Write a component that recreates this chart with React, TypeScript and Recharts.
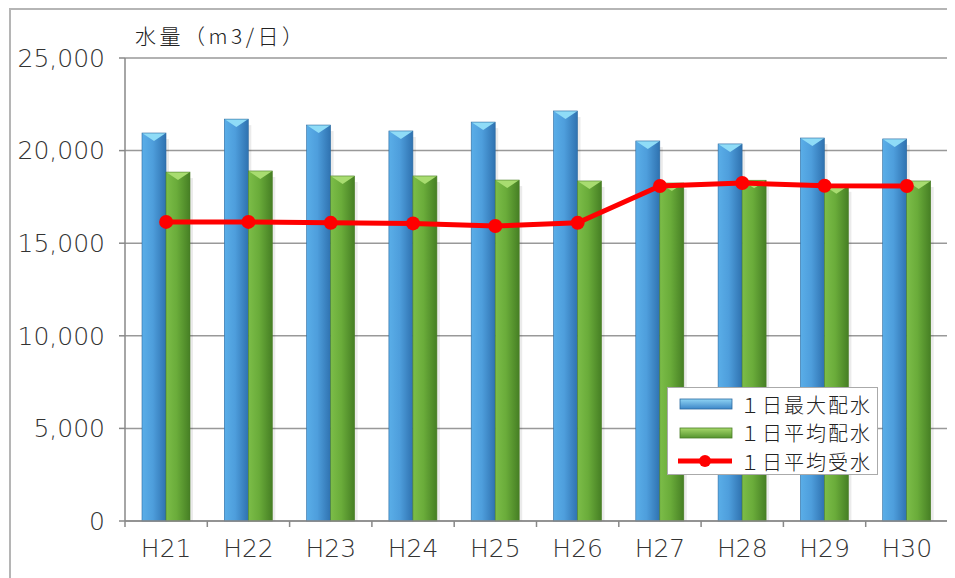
import React from "react";
import {
  ComposedChart,
  Bar,
  Line,
  XAxis,
  YAxis,
  CartesianGrid,
} from "recharts";

const years = ["H21", "H22", "H23", "H24", "H25", "H26", "H27", "H28", "H29", "H30"];
const maxSupply = [20950, 21700, 21380, 21060, 21540, 22140, 20520, 20360, 20680, 20630];
const avgSupply = [18840, 18900, 18630, 18630, 18410, 18360, 18250, 18400, 18100, 18360];
const avgIntake = [16150, 16150, 16100, 16070, 15930, 16100, 18090, 18250, 18100, 18090];
const yTicks = [0, 5000, 10000, 15000, 20000, 25000];

const seriesNames = ["１日最大配水", "１日平均配水", "１日平均受水"];

const data = years.map((y, i) => ({
  year: y,
  max: maxSupply[i],
  avg: avgSupply[i],
  intake: avgIntake[i],
}));

const W = 947;
const H = 570;
const M = { top: 50, right: 7, bottom: 27, left: 0 };
const Y_AXIS_W = 117;
const BAND = (W - M.left - M.right - Y_AXIS_W) / years.length;

const FONT = "'DejaVu Sans', 'Noto Sans CJK JP', sans-serif";
const JP_FONT = "'Noto Sans CJK JP', 'DejaVu Sans', sans-serif";

// cylinder-ish bar with a bevelled cap
const makeBar = (grad: string, cap: string, edge: string) => (props: any) => {
  const { x, y, width, height } = props;
  if (height <= 0) return null;
  return (
    <g>
      <rect x={x + 3} y={y + 6} width={width} height={height - 6} fill="#000" opacity={0.08} />
      <rect x={x} y={y} width={width} height={height} fill={`url(#${grad})`} />
      <polygon
        points={`${x},${y} ${x + width},${y} ${x + width / 2},${y + 8}`}
        fill={cap}
      />
      <rect x={x} y={y} width={width} height={height} fill="none" stroke={edge} strokeWidth={0.6} />
    </g>
  );
};

const BlueBar = makeBar("gBlue", "#8fdcf7", "#2c6aa0");
const GreenBar = makeBar("gGreen", "#a8dc70", "#4a7d26");

const XTick = (props: any) => {
  const { x, y, payload, index } = props;
  const left = x - BAND / 2;
  return (
    <g>
      <line x1={left} y1={y} x2={left} y2={y + 6} stroke="#888" strokeWidth={1.5} />
      {index === years.length - 1 && (
        <line x1={left + BAND} y1={y} x2={left + BAND} y2={y + 6} stroke="#888" strokeWidth={1.5} />
      )}
      <text
        x={x}
        y={y + 36}
        textAnchor="middle"
        fill="#333"
        fontSize={25}
        fontWeight={200}
        fontFamily={FONT}
      >
        {payload.value}
      </text>
    </g>
  );
};

const LegendBox = () => {
  const rows = [
    { name: seriesNames[0], kind: "blue" },
    { name: seriesNames[1], kind: "green" },
    { name: seriesNames[2], kind: "line" },
  ];
  return (
    <div
      style={{
        position: "absolute",
        left: 659,
        top: 379,
        width: 211,
        height: 88,
        background: "#fff",
        border: "1px solid #aaa",
        boxSizing: "border-box",
        paddingTop: 2,
      }}
    >
      {rows.map((r) => (
        <div key={r.name} style={{ display: "flex", alignItems: "center", height: 28.5 }}>
          <svg width={72} height={20}>
            {r.kind === "line" ? (
              <g>
                <line x1={10} y1={10} x2={64} y2={10} stroke="#ff0000" strokeWidth={5} />
                <circle cx={37} cy={10} r={6} fill="#ff0000" />
              </g>
            ) : (
              <rect
                x={12}
                y={5}
                width={52}
                height={10}
                fill={r.kind === "blue" ? "url(#gBlueH)" : "url(#gGreenH)"}
                stroke={r.kind === "blue" ? "#2c6aa0" : "#4a7d26"}
                strokeWidth={0.8}
              />
            )}
          </svg>
          <span
            style={{
              fontFamily: JP_FONT,
              fontSize: 20,
              fontWeight: 300,
              color: "#222",
              letterSpacing: 2,
            }}
          >
            {r.name}
          </span>
        </div>
      ))}
    </div>
  );
};

export default function App() {
  return (
    <div style={{ position: "relative", width: W, height: H }}>
      <svg width={0} height={0} style={{ position: "absolute" }}>
        <defs>
          <linearGradient id="gBlueH" x1="0" y1="0" x2="0" y2="1">
            <stop offset="0%" stopColor="#8fd4f4" />
            <stop offset="100%" stopColor="#3c86c8" />
          </linearGradient>
          <linearGradient id="gGreenH" x1="0" y1="0" x2="0" y2="1">
            <stop offset="0%" stopColor="#a6d86a" />
            <stop offset="100%" stopColor="#55942e" />
          </linearGradient>
        </defs>
      </svg>
      <ComposedChart width={W} height={H} data={data} margin={M} barGap={0} barCategoryGap="21%">
        <defs>
          <linearGradient id="gBlue" x1="0" y1="0" x2="1" y2="0">
            <stop offset="0%" stopColor="#5aaee8" />
            <stop offset="45%" stopColor="#4e9edc" />
            <stop offset="100%" stopColor="#2f72b0" />
          </linearGradient>
          <linearGradient id="gGreen" x1="0" y1="0" x2="1" y2="0">
            <stop offset="0%" stopColor="#7cbd48" />
            <stop offset="45%" stopColor="#6aac3a" />
            <stop offset="100%" stopColor="#467f24" />
          </linearGradient>
        </defs>
        <CartesianGrid vertical={false} stroke="#999" strokeWidth={1.5} />
        <XAxis
          dataKey="year"
          tickLine={false}
          tickSize={0}
          tickMargin={0}
          height={30}
          axisLine={{ stroke: "#888", strokeWidth: 1.5 }}
          tick={<XTick />}
          interval={0}
        />
        <YAxis
          width={Y_AXIS_W}
          domain={[0, 25000]}
          ticks={yTicks}
          tickSize={6}
          tickMargin={14}
          axisLine={{ stroke: "#888", strokeWidth: 1.5 }}
          tickLine={{ stroke: "#888", strokeWidth: 1.5 }}
          tick={{ fill: "#333", fontSize: 25, fontWeight: 200, fontFamily: FONT }}
          tickFormatter={(v: number) => v.toLocaleString("en-US")}
        />
        <YAxis
          yAxisId="frame"
          orientation="right"
          width={0}
          domain={[0, 25000]}
          tick={false}
          tickLine={false}
          axisLine={{ stroke: "#999", strokeWidth: 1.5 }}
        />
        <Bar dataKey="max" name={seriesNames[0]} barSize={24} shape={BlueBar} isAnimationActive={false} />
        <Bar dataKey="avg" name={seriesNames[1]} barSize={24} shape={GreenBar} isAnimationActive={false} />
        <Line
          dataKey="intake"
          name={seriesNames[2]}
          type="linear"
          stroke="#ff0000"
          strokeWidth={5}
          dot={{ r: 7, fill: "#ff0000", stroke: "#ff0000", strokeWidth: 0 }}
          activeDot={false}
          isAnimationActive={false}
        />
      </ComposedChart>
      <LegendBox />
      <div
        style={{
          position: "absolute",
          left: 127,
          top: 12,
          fontFamily: JP_FONT,
          fontSize: 21,
          fontWeight: 300,
          color: "#222",
          letterSpacing: 3.5,
          whiteSpace: "nowrap",
        }}
      >
        水量（m3/日）
      </div>
      <div
        style={{
          position: "absolute",
          left: 1,
          top: 0,
          width: W,
          height: H,
          borderTop: "2px solid #b5b5b5",
          borderLeft: "2px solid #b5b5b5",
          boxSizing: "border-box",
          pointerEvents: "none",
        }}
      />
    </div>
  );
}
